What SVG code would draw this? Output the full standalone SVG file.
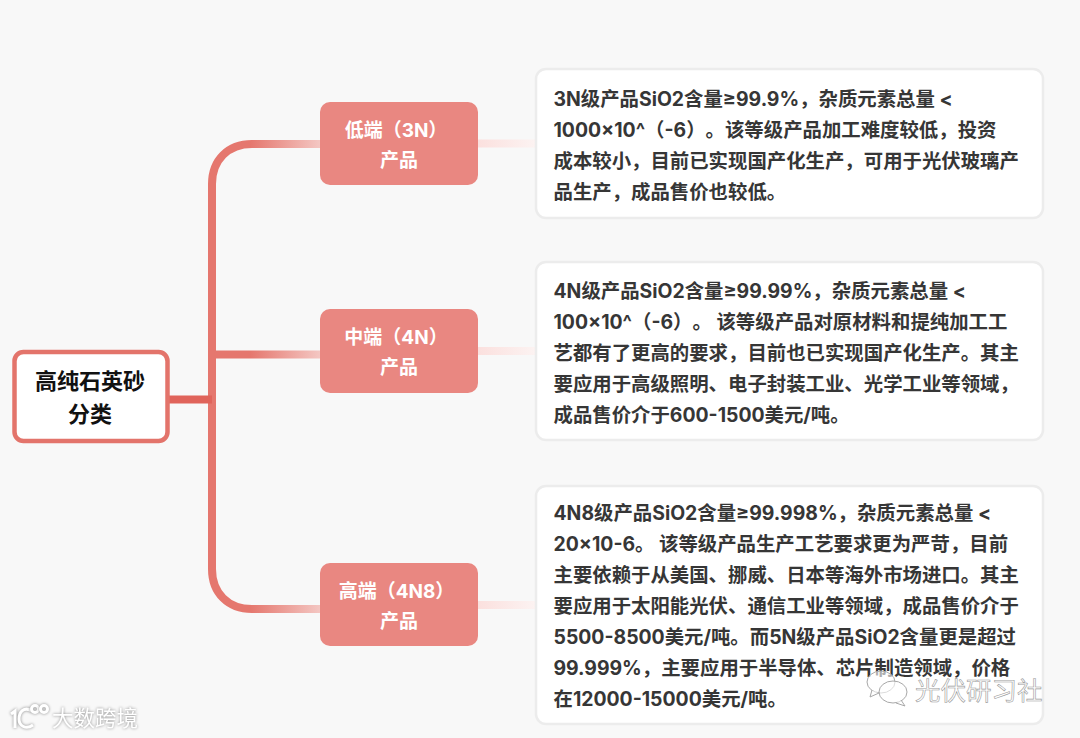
<svg xmlns="http://www.w3.org/2000/svg" width="1080" height="738" viewBox="0 0 1080 738">
<style>
text{font-family:"Inter","Noto Sans CJK SC","Noto Sans",sans-serif;font-weight:700;text-spacing-trim:space-all}
.body{font-size:19.4px;fill:#363636}
.card{fill:#fff;stroke:#ececec;stroke-width:2.5}
.tag{fill:#e98781}
.tagt{font-size:19px;fill:#fff;text-anchor:middle}
.root{fill:#fff;stroke:#e3746b;stroke-width:4.5}
.roott{font-size:22px;fill:#111;text-anchor:middle}
.conn{fill:none;stroke-width:8}
.wm1{fill:#fff;font-weight:400;font-size:21.500px;filter:drop-shadow(0 0 1.500px #8a8a8a)}
.wm2{fill:#fff;stroke:#9a9a9a;stroke-width:.6;font-weight:400;font-size:25.500px}
.wml{fill:none;stroke:#fff;stroke-width:3;filter:drop-shadow(0 0 1.500px #8a8a8a)}
.wmi{fill:#fff;fill-opacity:.6;stroke:#a8a8a8;stroke-width:1}
</style>
<defs>
<linearGradient id="g1" gradientUnits="userSpaceOnUse" x1="250" y1="0" x2="322" y2="0"><stop offset="0" stop-color="#e5776e"/><stop offset="1" stop-color="#f4c9c5"/></linearGradient>
<linearGradient id="g2" gradientUnits="userSpaceOnUse" x1="478" y1="0" x2="536" y2="0"><stop offset="0" stop-color="#fbe0de"/><stop offset="1" stop-color="#fcf3f2"/></linearGradient>
</defs>
<rect width="1080" height="738" fill="#f8f8f8"/>
<g id="connectors">
<path class="conn" stroke="url(#g1)" d="M322 144H252C228 144 212 160 212 184V400"/>
<path class="conn" stroke="url(#g1)" d="M322 609H252C228 609 212 593 212 569V400"/>
<path class="conn" stroke="url(#g1)" d="M212 354.500H322"/>
<path class="conn" stroke="#e0645b" stroke-width="7" d="M168 399.500H212"/>
<path class="conn" stroke="url(#g2)" d="M478 143.500H536"/>
<path class="conn" stroke="url(#g2)" d="M478 351H536"/>
<path class="conn" stroke="url(#g2)" d="M478 605H536"/>
</g>
<g id="root"><rect class="root" x="14.500" y="352" width="153" height="89" rx="9"/>
<text class="roott" x="90" y="389">高纯石英砂</text><text class="roott" x="90" y="422">分类</text></g>
<g id="tag-low"><rect class="tag" x="320" y="102" width="158" height="83" rx="10"/>
<text class="tagt" x="396" y="137">低端（3N）</text><text class="tagt" x="399" y="167">产品</text></g>
<g id="tag-mid"><rect class="tag" x="320" y="309" width="158" height="84" rx="10"/>
<text class="tagt" x="396" y="344">中端（4N）</text><text class="tagt" x="399" y="374">产品</text></g>
<g id="tag-high"><rect class="tag" x="320" y="563" width="158" height="83" rx="10"/>
<text class="tagt" x="396.500" y="598">高端（4N8）</text><text class="tagt" x="399" y="628">产品</text></g>
<g id="card-low"><rect class="card" x="536" y="69" width="507" height="149" rx="10"/>
<text class="body" x="553.500" y="106">3N级产品SiO2含量≥99.9%，杂质元素总量 &lt;</text>
<text class="body" x="553.500" y="137">1000×10^（-6）。该等级产品加工难度较低，投资</text>
<text class="body" x="553.500" y="168">成本较小，目前已实现国产化生产，可用于光伏玻璃产</text>
<text class="body" x="553.500" y="199">品生产，成品售价也较低。</text></g>
<g id="card-mid"><rect class="card" x="536" y="262" width="507" height="178" rx="10"/>
<text class="body" x="553.500" y="298">4N级产品SiO2含量≥99.99%，杂质元素总量 &lt;</text>
<text class="body" x="553.500" y="329">100×10^（-6）。 该等级产品对原材料和提纯加工工</text>
<text class="body" x="553.500" y="360">艺都有了更高的要求，目前也已实现国产化生产。其主</text>
<text class="body" x="553.500" y="391">要应用于高级照明、电子封装工业、光学工业等领域，</text>
<text class="body" x="553.500" y="422">成品售价介于600-1500美元/吨。</text></g>
<g id="card-high"><rect class="card" x="536" y="486" width="507" height="238" rx="10"/>
<text class="body" x="553.500" y="520">4N8级产品SiO2含量≥99.998%，杂质元素总量 &lt;</text>
<text class="body" x="553.500" y="551">20×10-6。 该等级产品生产工艺要求更为严苛，目前</text>
<text class="body" x="553.500" y="582">主要依赖于从美国、挪威、日本等海外市场进口。其主</text>
<text class="body" x="553.500" y="613">要应用于太阳能光伏、通信工业等领域，成品售价介于</text>
<text class="body" x="553.500" y="644">5500-8500美元/吨。而5N级产品SiO2含量更是超过</text>
<text class="body" x="553.500" y="675">99.999%，主要应用于半导体、芯片制造领域，价格</text>
<text class="body" x="553.500" y="706">在12000-15000美元/吨。</text></g>
<g id="watermark-left">
<path class="wml" d="M11 714L15 711V728M32 711C24 706 19 712 19 719C19 726 26 730 33 725"/>
<circle class="wml" cx="35" cy="709" r="3.500" stroke-width="2"/><circle class="wml" cx="44" cy="709" r="3.500" stroke-width="2"/>
<text class="wm1" x="52" y="726">大数跨境</text></g>
<g id="watermark-right">
<ellipse class="wmi" cx="881" cy="682" rx="14" ry="11"/>
<path class="wmi" d="M872 690L870 697L879 693"/>
<ellipse class="wmi" cx="893" cy="692" rx="14" ry="11"/>
<path class="wmi" d="M901 700L905 706L896 703"/>
<text class="wm2" x="915" y="700">光伏研习社</text></g>
</svg>
